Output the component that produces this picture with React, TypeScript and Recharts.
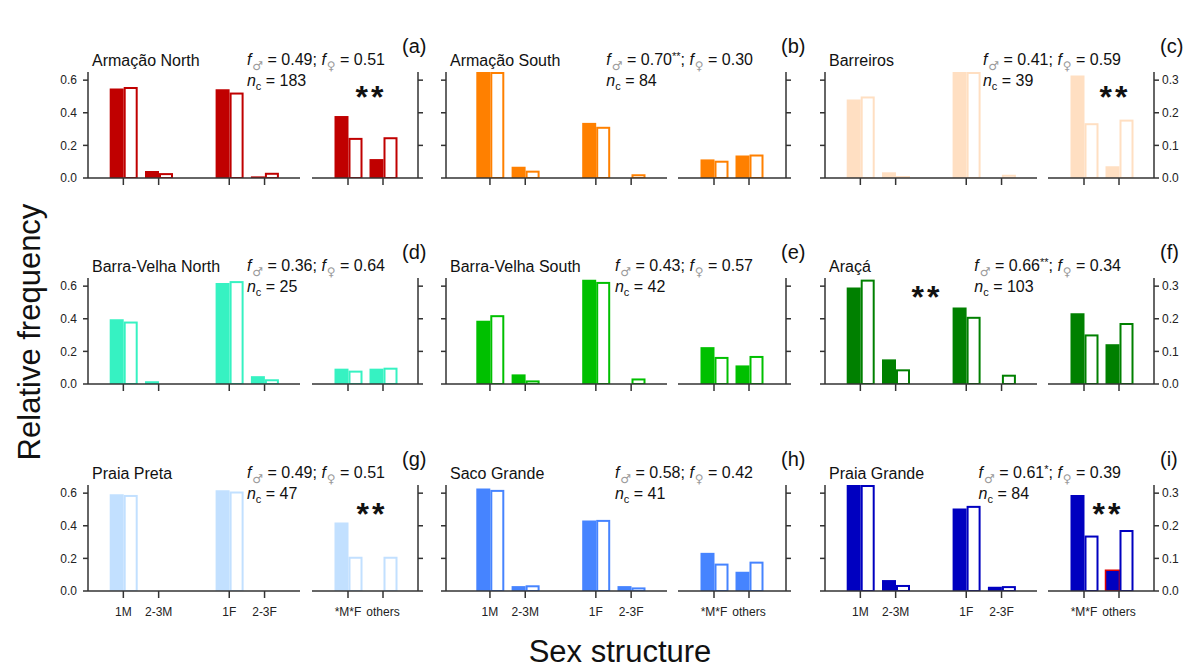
import React from 'react';
import { BarChart, Bar, XAxis, YAxis, Cell } from 'recharts';

// sites, in panel order (a)..(i)
const sites = [
  'Armação North', 'Armação South', 'Barreiros',
  'Barra-Velha North', 'Barra-Velha South', 'Araçá',
  'Praia Preta', 'Saco Grande', 'Praia Grande',
];
const panelLetters = ['(a)', '(b)', '(c)', '(d)', '(e)', '(f)', '(g)', '(h)', '(i)'];
const siteColors = [
  '#c00000', '#ff8000', '#ffdfc2',
  '#36f2c2', '#00c000', '#008000',
  '#c2e0ff', '#4684ff', '#0000c0',
];

const fMale = ['0.49', '0.70', '0.41', '0.36', '0.43', '0.66', '0.49', '0.58', '0.61'];
const fMaleSig = ['', '**', '', '', '', '**', '', '', '*'];
const fFemale = ['0.51', '0.30', '0.59', '0.64', '0.57', '0.34', '0.51', '0.42', '0.39'];
const nc = [183, 84, 39, 25, 42, 103, 47, 41, 84];

// left sub-plot: 1M, 2-3M, 1F, 2-3F
const structureCategories = ['1M', '2-3M', '1F', '2-3F'];
const maleStructure = [
  [0.549, 0.043, 0.544, 0.010],
  [0.650, 0.069, 0.338, 0],
  [0.481, 0.035, 0.650, 0],
  [0.397, 0.017, 0.619, 0.048],
  [0.388, 0.059, 0.640, 0],
  [0.591, 0.151, 0.469, 0],
  [0.593, 0, 0.618, 0],
  [0.628, 0.030, 0.432, 0.030],
  [0.650, 0.067, 0.506, 0.026],
];
const femaleStructure = [
  [0.558, 0.030, 0.524, 0.032],
  [0.650, 0.045, 0.314, 0.023],
  [0.500, 0.012, 0.650, 0.020],
  [0.383, 0, 0.631, 0.029],
  [0.422, 0.022, 0.626, 0.034],
  [0.640, 0.090, 0.412, 0.057],
  [0.589, 0, 0.610, 0],
  [0.620, 0.035, 0.436, 0.022],
  [0.650, 0.037, 0.522, 0.030],
];

// right sub-plot: *M*F, others (right axis, 0-0.3)
const mixedCategories = ['*M*F', 'others'];
const maleMixed = [
  [0.190, 0.058],
  [0.057, 0.069],
  [0.314, 0.036],
  [0.047, 0.047],
  [0.113, 0.057],
  [0.217, 0.122],
  [0.210, 0],
  [0.117, 0.059],
  [0.294, 0.064],
];
const femaleMixed = [
  [0.123, 0.125],
  [0.053, 0.072],
  [0.168, 0.179],
  [0.041, 0.050],
  [0.083, 0.086],
  [0.152, 0.187],
  [0.105, 0.105],
  [0.084, 0.090],
  [0.170, 0.187],
];

const leftTicks = [0, 0.2, 0.4, 0.6];
const rightTicks = [0, 0.1, 0.2, 0.3];

// layout
const rowTops = [72, 278, 485];
const PLOT_H = 106;
const UNIT = 35.3;
const BAR = 14;
const cols = [
  { lx: 88, lw: 212, lpad: 17.7, rx: 312, rw: 106, rpad: 18.5, letterX: 402 },
  { lx: 446, lw: 221, lpad: 26.3, rx: 678, rw: 108, rpad: 18.5, letterX: 781 },
  { lx: 825, lw: 212, lpad: 17.7, rx: 1048, rw: 106, rpad: 18.5, letterX: 1160 },
];
const stars: Record<number, { x: number; y: number }> = {
  0: { x: 371, y: 90 },
  2: { x: 1115, y: 90 },
  5: { x: 927, y: 290 },
  6: { x: 372, y: 507 },
  8: { x: 1108, y: 507 },
};

const AXIS = '#333';
const FONT = '"Liberation Sans", Arial, sans-serif';

const makeTick = (showLabel: boolean) => (props: any) => {
  const { x, y, payload } = props;
  if (payload.value === 'gap') return null;
  return (
    <g>
      <line x1={x} x2={x} y1={y} y2={y + 7} stroke={AXIS} strokeWidth={1.5} />
      {showLabel && (
        <text x={x} y={y + 25} textAnchor="middle" fontSize={12} fill="#222">
          {payload.value}
        </text>
      )}
    </g>
  );
};

const hollowBar = (color: string) => (p: any) => {
  if (!p.height || p.height <= 0) return <g />;
  return (
    <rect
      x={p.x + 1}
      y={p.y + 1}
      width={p.width - 2}
      height={p.height - 1}
      fill="#fff"
      stroke={color}
      strokeWidth={2}
    />
  );
};

const sexSymbol: React.CSSProperties = {
  fontFamily: '"DejaVu Sans", sans-serif',
  fontSize: 12,
  color: '#9a9a9a',
  position: 'relative',
  top: 5,
  marginLeft: 1,
};

const Panel = ({ i }: { i: number }) => {
  const row = Math.floor(i / 3);
  const col = i % 3;
  const c = cols[col];
  const top = rowTops[row];
  const color = siteColors[i];
  const bottomRow = row === 2;

  const structureData = [
    { cat: structureCategories[0], m: maleStructure[i][0], f: femaleStructure[i][0] },
    { cat: structureCategories[1], m: maleStructure[i][1], f: femaleStructure[i][1] },
    { cat: 'gap', m: 0, f: 0 },
    { cat: structureCategories[2], m: maleStructure[i][2], f: femaleStructure[i][2] },
    { cat: structureCategories[3], m: maleStructure[i][3], f: femaleStructure[i][3] },
  ];
  const mixedData = mixedCategories.map((cat, k) => ({
    cat,
    m: maleMixed[i][k],
    f: femaleMixed[i][k],
  }));

  const leftRightPad = c.lw - c.lpad - 5 * UNIT;
  const rightRightPad = c.rw - c.rpad - 2 * 35;

  return (
    <>
      <div style={{ position: 'absolute', left: c.lx - 40, top: top - 4 }}>
        <BarChart
          width={40 + c.lw + 4}
          height={4 + PLOT_H + 36}
          data={structureData}
          margin={{ top: 4, right: 4, left: 0, bottom: 0 }}
          barGap={0}
          barSize={BAR}
        >
          <XAxis
            dataKey="cat"
            type="category"
            height={36}
            padding={{ left: c.lpad, right: leftRightPad }}
            axisLine={{ stroke: AXIS, strokeWidth: 1.5 }}
            tickLine={false}
            tickSize={0}
            tickMargin={0}
            interval={0}
            tick={makeTick(bottomRow)}
          />
          <YAxis
            width={40}
            domain={[0, 0.65]}
            ticks={leftTicks}
            allowDataOverflow
            axisLine={{ stroke: AXIS, strokeWidth: 1.5 }}
            tickLine={{ stroke: AXIS, strokeWidth: 1.5 }}
            tickSize={5}
            tickMargin={6}
            tick={{ fontSize: 12, fill: '#222' }}
            tickFormatter={(v: number) => (col === 0 ? v.toFixed(1) : '')}
          />
          <Bar dataKey="m" fill={color} isAnimationActive={false} />
          <Bar dataKey="f" shape={hollowBar(color)} isAnimationActive={false} />
        </BarChart>
      </div>

      <div style={{ position: 'absolute', left: c.rx, top: top - 4 }}>
        <BarChart
          width={c.rw + 40}
          height={4 + PLOT_H + 36}
          data={mixedData}
          margin={{ top: 4, right: 0, left: 0, bottom: 0 }}
          barGap={0}
          barSize={BAR}
        >
          <XAxis
            dataKey="cat"
            type="category"
            height={36}
            padding={{ left: c.rpad, right: rightRightPad }}
            axisLine={{ stroke: AXIS, strokeWidth: 1.5 }}
            tickLine={false}
            tickSize={0}
            tickMargin={0}
            interval={0}
            tick={makeTick(bottomRow)}
          />
          <YAxis
            orientation="right"
            width={40}
            domain={[0, 0.325]}
            ticks={rightTicks}
            allowDataOverflow
            axisLine={{ stroke: AXIS, strokeWidth: 1.5 }}
            tickLine={{ stroke: AXIS, strokeWidth: 1.5 }}
            tickSize={5}
            tickMargin={3}
            tick={{ fontSize: 12, fill: '#222', textAnchor: 'start' }}
            tickFormatter={(v: number) => (col === 2 ? v.toFixed(1) : '')}
          />
          <Bar dataKey="m" fill={color} isAnimationActive={false}>
            {mixedData.map((_, k) => (
              <Cell
                key={k}
                stroke={i === 8 && k === 1 ? '#e00000' : undefined}
                strokeWidth={i === 8 && k === 1 ? 1.5 : 0}
              />
            ))}
          </Bar>
          <Bar dataKey="f" shape={hollowBar(color)} isAnimationActive={false} />
        </BarChart>
      </div>

      {/* site name */}
      <div
        style={{
          position: 'absolute', left: c.lx + 4, top: top - 21, fontSize: 16,
          lineHeight: '20px', whiteSpace: 'nowrap', color: '#111',
        }}
      >
        {sites[i]}
      </div>

      {/* sex ratio and number of clutches */}
      <div
        style={{
          position: 'absolute', right: 1193 - (c.rx + c.rw - 33), top: top - 22,
          fontSize: 16, lineHeight: '20px', whiteSpace: 'nowrap', color: '#111',
        }}
      >
        <div>
          <i>f</i>
          <span style={sexSymbol}>♂</span>
          {' = ' + fMale[i]}
          {fMaleSig[i] && (
            <span style={{ fontSize: 11, position: 'relative', top: -5 }}>{fMaleSig[i]}</span>
          )}
          {'; '}
          <i>f</i>
          <span style={sexSymbol}>♀</span>
          {' = ' + fFemale[i]}
        </div>
        <div>
          <i>n</i>
          <span style={{ fontSize: 11, position: 'relative', top: 4 }}>c</span>
          {' = ' + nc[i]}
        </div>
      </div>

      {/* panel letter */}
      <div
        style={{
          position: 'absolute', left: c.letterX, top: top - 38, fontSize: 20,
          lineHeight: '24px', color: '#111',
        }}
      >
        {panelLetters[i]}
      </div>

      {stars[i] && (
        <div
          style={{
            position: 'absolute', left: stars[i].x - 20, top: stars[i].y - 9, width: 40,
            textAlign: 'center', fontSize: 32, lineHeight: '32px', fontWeight: 'bold',
            letterSpacing: 3, color: '#111',
          }}
        >
          **
        </div>
      )}
    </>
  );
};

export default function App() {
  return (
    <div
      style={{
        position: 'absolute', left: 0, top: 0, width: 1193, height: 669,
        background: '#fff', fontFamily: FONT, overflow: 'hidden',
      }}
    >
      {sites.map((_, i) => (
        <Panel key={i} i={i} />
      ))}
      <div
        style={{
          position: 'absolute', left: 30 - 200, top: 332 - 20, width: 400, height: 40,
          lineHeight: '40px', textAlign: 'center', fontSize: 31, color: '#111',
          transform: 'rotate(-90deg)',
        }}
      >
        Relative frequency
      </div>
      <div
        style={{
          position: 'absolute', left: 420, top: 632, width: 400, lineHeight: '40px',
          textAlign: 'center', fontSize: 31, color: '#111',
        }}
      >
        Sex structure
      </div>
    </div>
  );
}
